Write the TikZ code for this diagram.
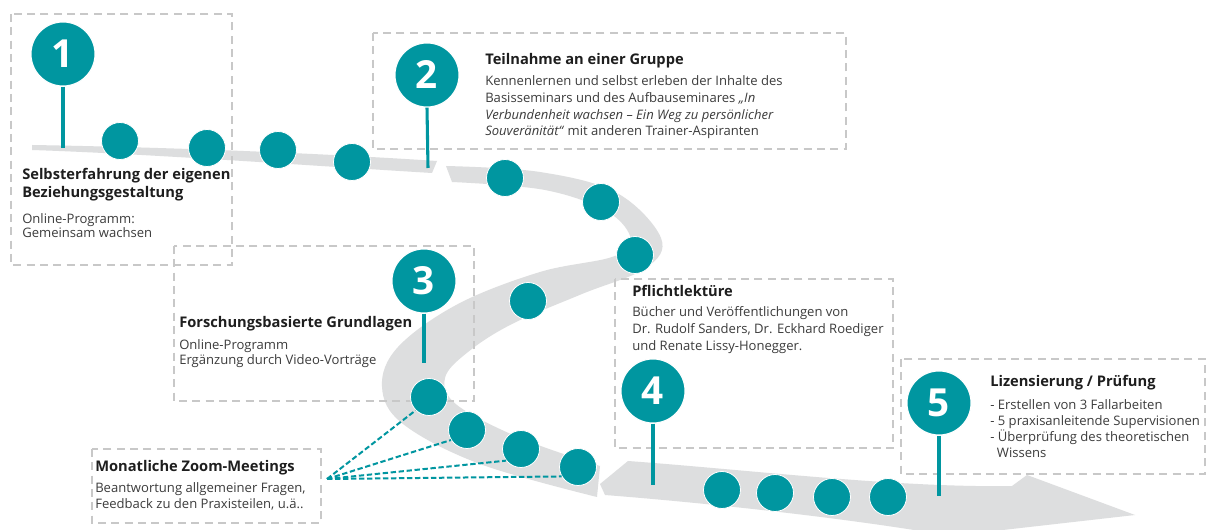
\documentclass[tikz,border=0pt]{standalone}
\usepackage{fontspec}
\setmainfont{Open Sans}
\definecolor{tealc}{RGB}{0,150,160}
\definecolor{bandc}{RGB}{221,222,223}
\definecolor{boxc}{RGB}{200,200,200}
\definecolor{ttlc}{RGB}{30,30,30}
\definecolor{bdyc}{RGB}{60,60,60}
\begin{document}
\begin{tikzpicture}[x=0.75pt,y=-0.75pt,
  dot/.style={circle, fill=tealc, draw=white, line width=0.6pt, minimum size=27.75pt, inner sep=0pt},
  pinc/.style={circle, fill=tealc, draw=white, line width=0.8pt, minimum size=48pt, inner sep=0pt, text=white, font=\fontsize{29}{29}\selectfont\bfseries},
  stem/.style={draw=tealc, line width=2.3pt},
  dbox/.style={draw=boxc, dash pattern=on 6pt off 4pt, line width=0.9pt},
  zline/.style={draw=tealc, line width=1.5pt, dash pattern=on 4pt off 2pt},
  ttl/.style={anchor=base west, align=left, inner sep=0pt, text=ttlc, font=\fontsize{11}{13.5}\selectfont\bfseries},
  bdy/.style={anchor=base west, align=left, inner sep=0pt, text=bdyc, font=\fontsize{9.8}{12.5}\selectfont},
  band/.style={fill=bandc}]
\useasboundingbox (0,0) rectangle (1207,530);
\fill[white] (0,0) rectangle (1207,530);
% ribbon
\begin{scope}
\clip (0,0) rectangle (1207,530);
\fill[band] (32,145) .. controls (150,147) and (300,152) .. (437,161) -- (432,173) .. controls (300,165) and (150,154) .. (32,150) -- cycle;
\fill[band] plot[smooth, tension=0.6] coordinates {(446,166) (540,172) (617,193) (661,238) (646,268) (582,294) (512,324) (468,352) (445,378) (457,405) (520,438) (600,466)}
  -- plot[smooth, tension=0.6] coordinates {(597,497) (480,464) (403,424) (382,387) (398,347) (458,304) (540,272) (612,257) (631,240) (608,212) (545,190) (452,182)} -- cycle;
\fill[band] (628,461) .. controls (750,470) and (900,488) .. (1012,486) -- (1027,475) -- (1135,515) -- (950,536) .. controls (860,520) and (720,504) .. (605,495) -- (600,484) -- cycle;
\end{scope}
% boxes
\draw[dbox] (11,14) rectangle (232,265);
\draw[dbox] (373,33) rectangle (846,149);
\draw[dbox] (174,246) rectangle (474,401);
\draw[dbox] (615,279) rectangle (893,448);
\draw[dbox] (901,359) rectangle (1205,474);
\draw[dbox] (92,449) rectangle (321,523);
% stems
\coordinate (s1) at (63,148);
\coordinate (s2) at (428,168);
\coordinate (s3) at (424,363);
\coordinate (s4) at (653,485);
\coordinate (s5) at (939,496);
\node[pinc] (p1) at (63,54) {1};
\node[pinc] (p2) at (427,75) {2};
\node[pinc] (p3) at (424,281) {3};
\node[pinc] (p4) at (653,391) {4};
\node[pinc] (p5) at (939,403) {5};
\draw[stem] (p1.south) -- (s1);
\draw[stem] (p2.south) -- (s2);
\draw[stem] (p3.south) -- (s3);
\draw[stem] (p4.south) -- (s4);
\draw[stem] (p5.south) -- (s5);
% dots
\node[dot] (d1) at (120,141) {};
\node[dot] (d2) at (207,148) {};
\node[dot] (d3) at (278,150) {};
\node[dot] (d4) at (352,162) {};
\node[dot] (d5) at (505,178) {};
\node[dot] (d6) at (601,202) {};
\node[dot] (d7) at (635,255) {};
\node[dot] (d8) at (528,301) {};
\node[dot] (d9) at (429,397) {};
\node[dot] (d10) at (467,430) {};
\node[dot] (d11) at (521,449) {};
\node[dot] (d12) at (578,467) {};
\node[dot] (d13) at (722,490) {};
\node[dot] (d14) at (775,493) {};
\node[dot] (d15) at (832,497) {};
\node[dot] (d16) at (888,497) {};
% zoom lines
\coordinate (zc) at (327,479);
\draw[zline] (zc) -- (d9.225);
\draw[zline] (zc) -- (d10.212);
\draw[zline] (zc) -- (d11.218);
\draw[zline] (zc) -- (d12.210);
% texts (anchor = baseline of last line)
\node[ttl] (t1) at (22,198) {Selbsterfahrung der eigenen\\Beziehungsgestaltung};
\node[bdy, font=\fontsize{9.8}{11}\selectfont] (b1) at (22,237.7) {Online-Programm:\\Gemeinsam wachsen};
\node[ttl] (t2) at (485,65) {Teilnahme an einer Gruppe};
\node[bdy] (b2) at (485,136) {Kennenlernen und selbst erleben der Inhalte des\\Basisseminars und des Aufbauseminares \textit{„In}\\\textit{Verbundenheit wachsen – Ein Weg zu persönlicher}\\\textit{Souveränität“} mit anderen Trainer-Aspiranten};
\node[ttl] (t3) at (179,328) {Forschungsbasierte Grundlagen};
\node[bdy, font=\fontsize{9.8}{10.8}\selectfont] (b3) at (179,364.4) {Online-Programm\\Ergänzung durch Video-Vorträge};
\node[ttl] (t4) at (632,297) {Pflichtlektüre};
\node[bdy] (b4) at (632,350.3) {Bücher und Veröffentlichungen von\\Dr. Rudolf Sanders, Dr. Eckhard Roediger\\und Renate Lissy-Honegger.};
\node[ttl] (t5) at (990,387) {Lizensierung / Prüfung};
\node[bdy, font=\fontsize{9.8}{12}\selectfont] (b5) at (990,458) {- Erstellen von 3 Fallarbeiten\\- 5 praxisanleitende Supervisionen\\- Überprüfung des theoretischen\\\hspace*{5pt}Wissens};
\node[ttl] (t6) at (95,472) {Monatliche Zoom-Meetings};
\node[bdy, font=\fontsize{9.8}{11.5}\selectfont] (b6) at (95,508.3) {Beantwortung allgemeiner Fragen,\\Feedback zu den Praxisteilen, u.ä..};
\end{tikzpicture}
\end{document}
